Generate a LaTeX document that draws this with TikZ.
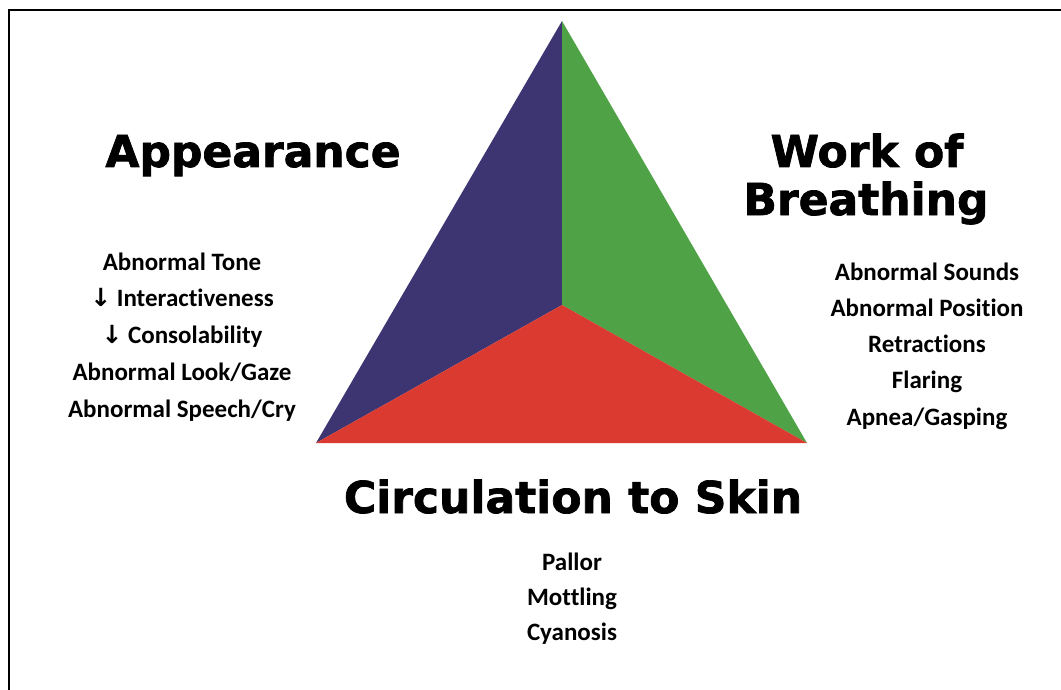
\documentclass[tikz,border=0pt]{standalone}
\usepackage{fontspec}
\setmainfont{Carlito}[Ligatures=NoCommon]
\newfontfamily\headfont{DejaVu Sans}[BoldFeatures={FakeBold=1.6}]
\newfontfamily\arrowfont{DejaVu Sans}
\usetikzlibrary{positioning}
\definecolor{appblue}{HTML}{3D3571}
\definecolor{wobgreen}{HTML}{4FA246}
\definecolor{circred}{HTML}{DA3A2F}

\begin{document}
\begin{tikzpicture}[x=1pt,y=-1pt,
  head/.style={font=\headfont\bfseries\fontsize{44}{48}\selectfont,inner sep=0pt,anchor=base},
  item/.style={font=\bfseries\fontsize{25}{30}\selectfont,inner sep=0pt,anchor=base}]
\useasboundingbox (0,0) rectangle (1061,690);
\draw[line width=2.5pt] (9,690) -- (9,10) -- (1061,10);
% triangle
\coordinate (top) at (562,21);
\coordinate (bl) at (316,443);
\coordinate (br) at (807,443);
\coordinate (mid) at (562,305);
\fill[appblue] (top) -- (mid) -- (bl) -- cycle;
\fill[wobgreen] (top) -- (br) -- (mid) -- cycle;
\fill[circred] (bl) -- (mid) -- (br) -- cycle;
% headings
\node[head] (app) at (253,167) {Appearance};
\node[head] (work) at (867,167) {Work of};
\node[head] (breath) at (866,215) {Breathing};
\node[head] (circ) at (573,513) {Circulation to Skin};
% signs
\foreach \t [count=\i] in {Abnormal Tone,{{\arrowfont↓} Interactiveness},{{\arrowfont↓} Consolability},Abnormal Look/Gaze,Abnormal Speech/Cry}
  \node[item] (app\i) at (182,{270+36.8*(\i-1)}) {\t};
\foreach \t [count=\i] in {Abnormal Sounds,Abnormal Position,Retractions,Flaring,Apnea/Gasping}
  \node[item] (wob\i) at (927,{280+36.3*(\i-1)}) {\t};
\foreach \t [count=\i] in {Pallor,Mottling,Cyanosis}
  \node[item] (circ\i) at (572,{570+35*(\i-1)}) {\t};
\end{tikzpicture}
\end{document}
